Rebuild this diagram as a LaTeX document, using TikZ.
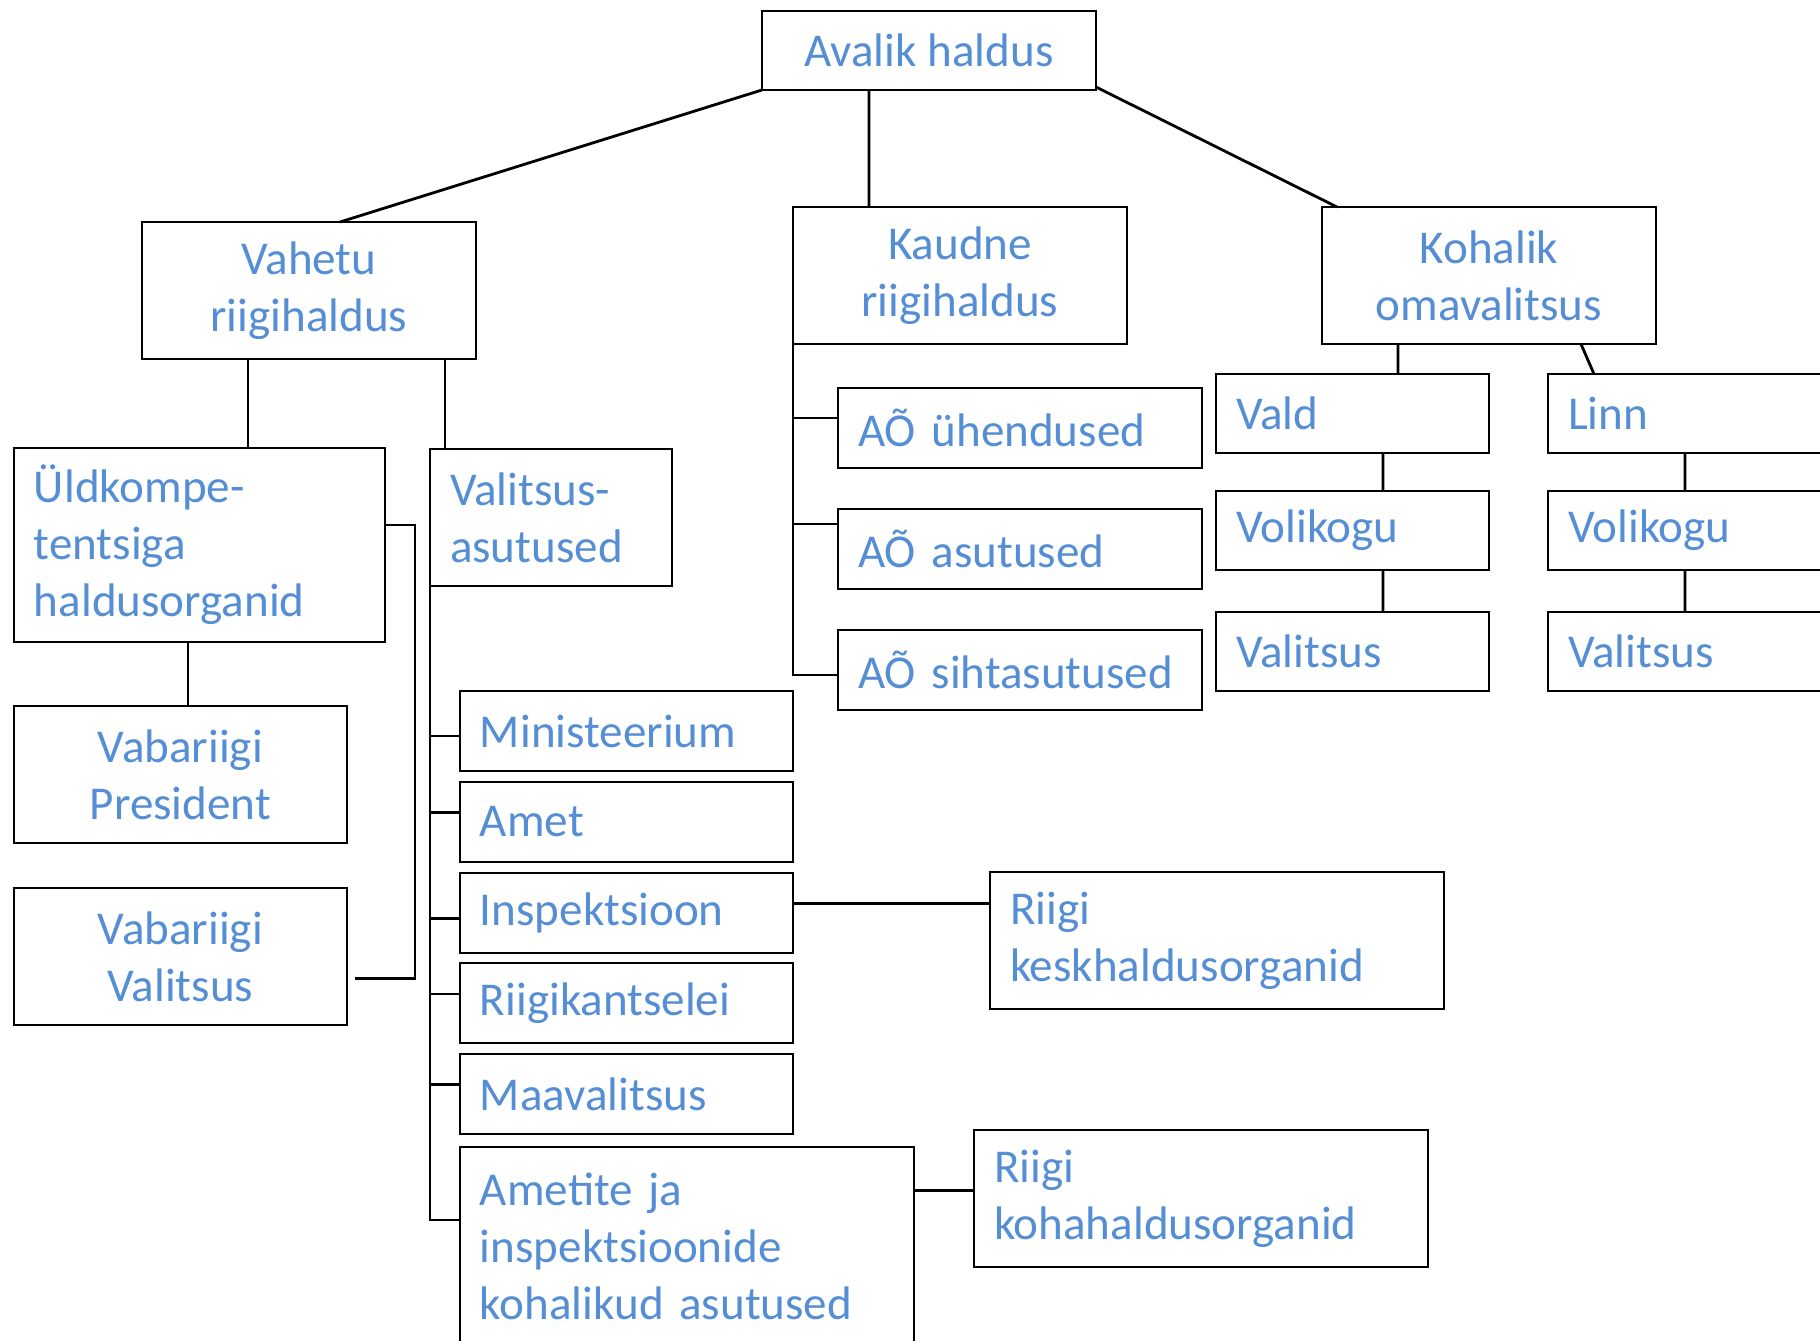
\documentclass[tikz,border=0pt]{standalone}
\usepackage{fontspec}
\setmainfont{Carlito}
\definecolor{txtblue}{RGB}{85,142,213}
\begin{document}
\begin{tikzpicture}[x=0.02cm,y=-0.02cm,line width=1.6pt,
    box/.style={draw,anchor=north west,inner sep=0pt,outer sep=0pt,text=txtblue,
        font=\fontsize{26.8pt}{32.4pt}\selectfont},
    cbox/.style={box,align=center,minimum width=6.68cm,minimum height=2.74cm},
    lbox/.style={box,align=left,inner xsep=0.4cm,minimum height=1.6cm}]
            \useasboundingbox (0,0) rectangle (1820,1340);
            \clip (0,0) rectangle (1820,1340);
            \begin{scope}
                \node[cbox,minimum height=1.58cm] (avalik) at (762,11) {Avalik haldus};
                \node[cbox] (vahetu) at (142,222) {Vahetu\\riigihaldus};
                \node[cbox] (kaudne) at (793,207) {Kaudne\\riigihaldus};
                \node[cbox] (kohalik) at (1322,207) {Kohalik\\omavalitsus};
                \node[lbox,text width=6.62cm,minimum height=3.88cm] (uldk) at (14,448) {Üldkompe-\\tentsiga\\haldusorganid};
                \node[lbox,text width=4.04cm,minimum height=2.74cm] (valasut) at (430,449) {Valitsus-\\asutused};
                \node[cbox,minimum width=6.66cm] (pres) at (14,706) {Vabariigi\\President};
                \node[cbox,minimum width=6.66cm] (vv) at (14,888) {Vabariigi\\Valitsus};
                \node[lbox,text width=5.86cm] (minist) at (460,691) {Ministeerium};
                \node[lbox,text width=5.86cm] (amet) at (460,782) {Amet};
                \node[lbox,text width=5.86cm] (insp) at (460,873) {Inspektsioon};
                \node[lbox,text width=5.86cm] (riigik) at (460,963) {Riigikantselei};
                \node[lbox,text width=5.86cm] (maav) at (460,1054) {Maavalitsus};
                \node[lbox,text width=8.28cm,minimum height=3.96cm] (ametite) at (460,1147) {Ametite ja\\inspektsioonide\\kohalikud asutused};
                \node[lbox,text width=6.48cm] (aoyh) at (838,388) {AÕ ühendused};
                \node[lbox,text width=6.48cm] (aoas) at (838,509) {AÕ asutused};
                \node[lbox,text width=6.48cm] (aosiht) at (838,630) {AÕ sihtasutused};
                \node[lbox,text width=4.66cm,minimum height=1.58cm] (vald) at (1216,374) {Vald};
                \node[lbox,text width=4.66cm,minimum height=1.58cm] (volv) at (1216,491) {Volikogu};
                \node[lbox,text width=4.66cm,minimum height=1.58cm] (valv) at (1216,612) {Valitsus};
                \node[lbox,text width=5cm,minimum height=1.58cm] (linn) at (1548,374) {Linn};
                \node[lbox,text width=5cm,minimum height=1.58cm] (voll) at (1548,491) {Volikogu};
                \node[lbox,text width=5cm,minimum height=1.58cm] (vall) at (1548,612) {Valitsus};
                \node[lbox,text width=8.28cm,minimum height=2.74cm] (rkesk) at (990,872) {Riigi\\keskhaldusorganid};
                \node[lbox,text width=8.28cm,minimum height=2.74cm] (rkoha) at (974,1130) {Riigi\\kohahaldusorganid};
            \end{scope}
            % top level
            \draw (avalik.south west) -- ([xshift=0.62cm]vahetu.north)
                ([xshift=2.14cm]avalik.south west) -- ([xshift=2.14cm]avalik.south west |- kaudne.north)
                ([yshift=0.06cm]avalik.south east) -- ([xshift=0.3cm]kohalik.north west);
            % vahetu riigihaldus
            \draw ([xshift=2.12cm]vahetu.south west) -- ([xshift=2.12cm]vahetu.south west |- uldk.north)
                ([xshift=-0.62cm]vahetu.south east) -- ([xshift=-0.62cm]vahetu.south east |- valasut.north)
                ([xshift=3.48cm]uldk.south west) -- ([xshift=3.48cm]uldk.south west |- pres.north)
                ([yshift=0.4cm]uldk.east) -- ++(30,0) |- ([xshift=0.16cm,yshift=-0.44cm]vv.east);
            \draw (valasut.south west) |- ([yshift=-0.1cm]minist.west)
                (valasut.south west) |- ([yshift=0.19cm]amet.west)
                (valasut.south west) |- ([yshift=-0.11cm]insp.west)
                (valasut.south west) |- ([yshift=0.18cm]riigik.west)
                (valasut.south west) |- ([yshift=0.19cm]maav.west)
                (valasut.south west) |- ([yshift=-1.46cm]ametite.north west);
            \draw ([yshift=0.19cm]insp.east) -- ([yshift=0.19cm]insp.east -| rkesk.west)
                ([yshift=-0.87cm]ametite.north east) -- ([yshift=-0.87cm]ametite.north east -| rkoha.west);
            % kaudne riigihaldus
            \draw (kaudne.south west) |- ([yshift=0.2cm]aoyh.west)
                (kaudne.south west) |- ([yshift=0.5cm]aoas.west)
                (kaudne.south west) |- ([yshift=-0.1cm]aosiht.west);
            % kohalik omavalitsus
            \draw ([xshift=1.52cm]kohalik.south west) -- ([xshift=1.52cm]kohalik.south west |- vald.north)
                ([xshift=-1.5cm]kohalik.south east) -- ([xshift=0.92cm]linn.north west)
                ([xshift=3.34cm]vald.south west) -- ([xshift=3.34cm]vald.south west |- volv.north)
                ([xshift=3.34cm]volv.south west) -- ([xshift=3.34cm]volv.south west |- valv.north)
                ([xshift=2.74cm]linn.south west) -- ([xshift=2.74cm]linn.south west |- voll.north)
                ([xshift=2.74cm]voll.south west) -- ([xshift=2.74cm]voll.south west |- vall.north);
        \end{tikzpicture}
\end{document}
